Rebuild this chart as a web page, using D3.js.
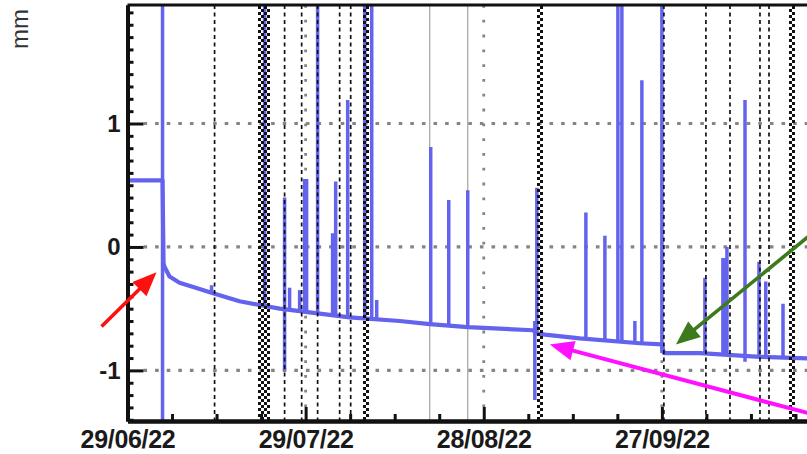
<!DOCTYPE html>
<html><head><meta charset="utf-8">
<script src="https://cdn.jsdelivr.net/npm/d3@7"></script>
<style>
html,body{margin:0;padding:0;background:#fff;}
svg{display:block;}
text{font-family:"Liberation Sans",Arial,Helvetica,sans-serif;}
</style></head><body>
<svg id="chart" width="807" height="454"></svg>
<script>
// ---------------- DATA ----------------
const xTickLabels = ["29/06/22", "29/07/22", "28/08/22", "27/09/22"];
const yTickValues = [1, 0, -1];
const yTickLabels = ["1", "0", "-1"];
const yAxisTitle = "mm";

// slowly drifting baseline of the displacement record
const baseDates = ["2022-06-29 00:00","2022-07-04 21:36","2022-07-05 01:40","2022-07-05 05:30","2022-07-06 01:50",
  "2022-07-07 18:15","2022-07-11 03:20","2022-07-13 16:00","2022-07-17 21:00","2022-07-21 06:00","2022-07-24 15:00",
  "2022-07-27 23:45","2022-08-05 10:00","2022-08-13 20:20","2022-08-18 21:40","2022-08-25 07:20","2022-09-05 06:15",
  "2022-09-06 00:30","2022-09-07 06:45","2022-09-13 04:20","2022-09-23 07:10","2022-09-27 00:00","2022-09-27 08:10",
  "2022-10-03 09:50","2022-10-13 12:30","2022-10-25 07:00"];
const baseValues = [0.54, 0.54, -0.13, -0.16, -0.24,
  -0.29, -0.34, -0.38, -0.44, -0.47, -0.50,
  -0.52, -0.57, -0.60, -0.625, -0.65, -0.675,
  -0.70, -0.71, -0.74, -0.78, -0.79, -0.86,
  -0.86, -0.89, -0.91];

// transient spikes (high / low ends)
const spikeDates = ["2022-07-04 21:36","2022-07-13 03:50","2022-07-22 02:10","2022-07-25 11:00","2022-07-26 07:15",
  "2022-07-27 23:45","2022-07-28 20:00","2022-07-29 04:00","2022-07-31 00:30","2022-08-02 13:00","2022-08-03 01:30",
  "2022-08-05 02:00","2022-08-07 22:50","2022-08-09 03:10","2022-08-09 23:20","2022-08-19 01:40","2022-08-22 02:30",
  "2022-08-25 07:20","2022-09-05 14:25","2022-09-05 22:30","2022-09-14 04:50","2022-09-17 09:40","2022-09-19 14:10",
  "2022-09-20 06:20","2022-09-22 10:50","2022-09-23 15:10","2022-09-27 00:00","2022-10-04 06:00","2022-10-07 06:45",
  "2022-10-07 14:30","2022-10-07 23:00","2022-10-11 00:00","2022-10-13 08:30","2022-10-14 12:00","2022-10-17 09:40"];
const spikeHighs = [2.5, -0.31, 2.5, 0.40, -0.33,
  -0.35, 0.55, 0.55, 2.5, 0.11, 0.53,
  1.19, 2.5, 2.5, -0.43, 0.81, 0.38,
  0.46, -0.60, 0.48, 0.28, 0.09, 2.5,
  2.5, -0.60, 1.35, 2.5, -0.25, -0.09,
  -0.09, 0.00, 1.19, -0.12, -0.28, -0.46];
const spikeLows = [-1.6, -0.38, -0.48, -1.00, -0.51,
  -0.52, -0.53, -0.53, -0.54, -0.55, -0.55,
  -0.56, -0.57, -0.57, -0.58, -0.625, -0.635,
  -0.65, -1.24, -0.70, -0.74, -0.76, -0.77,
  -0.77, -0.78, -0.78, -0.86, -0.86, -0.87,
  -0.87, -0.87, -0.93, -0.88, -0.89, -0.89];

// event markers
const dashedEventDates = ["2022-07-13 16:00","2022-07-25 11:00","2022-07-28 08:00","2022-07-31 00:30","2022-08-03 17:30",
  "2022-08-05 14:10","2022-09-27 08:10","2022-10-04 10:00","2022-10-08 11:15","2022-10-13 12:30","2022-10-15 01:00"];
const checkerEventDates = ["2022-07-21 10:00","2022-07-22 10:20","2022-08-08 02:40","2022-09-06 10:30","2022-10-18 21:40"];
const grayEventDates = ["2022-08-18 21:40","2022-08-25 07:20"];

// annotation arrows (tail -> tip), in data units
const arrowTailDates = ["2022-06-24 15:00","2022-10-21 22:50","2022-10-21 22:50"];
const arrowTailValues = [-0.645, 0.095, -1.35];
const arrowTipDates = ["2022-07-03 21:20","2022-09-29 08:40","2022-09-08 03:00"];
const arrowTipValues = [-0.205, -0.79, -0.79];

// ---------------- CHART ----------------
const parse = d3.timeParse("%Y-%m-%d %H:%M");
const svg = d3.select("#chart");
const pL = 127.5, pR = 840, pT = 5, pB = 421;
const x = d3.scaleTime().domain([new Date(2022,5,29), new Date(2022,9,27)]).range([pL, pR]);
const y = d3.scaleLinear().domain([-1.41, 1.96]).range([pB, pT]);
const BLUE = "#6363ee";

const defs = svg.append("defs");
defs.append("clipPath").attr("id","clip").append("rect")
  .attr("x", pL).attr("y", pT).attr("width", pR-pL).attr("height", pB-pT);
const pat = defs.append("pattern").attr("id","chk").attr("width",6).attr("height",6)
  .attr("patternUnits","userSpaceOnUse");
pat.append("rect").attr("x",0).attr("y",0).attr("width",3).attr("height",3).attr("fill","#111");
pat.append("rect").attr("x",3).attr("y",3).attr("width",3).attr("height",3).attr("fill","#111");

const plot = svg.append("g").attr("clip-path","url(#clip)");

// horizontal dotted grid
plot.selectAll(".hg").data(yTickValues).enter().append("line")
  .attr("x1", pL+16).attr("x2", pR).attr("y1", d=>y(d)).attr("y2", d=>y(d))
  .attr("stroke","#858585").attr("stroke-width",3.2).attr("stroke-dasharray","3.6 8");

// vertical dotted grid at major dates
const majorDates = xTickLabels.map(s => d3.timeParse("%d/%m/%y")(s));
plot.selectAll(".vg").data(majorDates.slice(1)).enter().append("line")
  .attr("x1", d=>x(d)).attr("x2", d=>x(d)).attr("y1", pT).attr("y2", pB-14)
  .attr("stroke","#858585").attr("stroke-width",2.8).attr("stroke-dasharray","2.8 12");

// gray solid event lines
plot.selectAll(".ge").data(grayEventDates.map(parse)).enter().append("line")
  .attr("x1", d=>x(d)).attr("x2", d=>x(d)).attr("y1", pT).attr("y2", pB)
  .attr("stroke","#9a9a9a").attr("stroke-width",1.1);

// baseline
const baseData = baseDates.map((d,i)=>({t:parse(d), v:baseValues[i]}));
plot.append("path").datum(baseData)
  .attr("d", d3.line().x(d=>x(d.t)).y(d=>y(d.v)))
  .attr("fill","none").attr("stroke",BLUE).attr("stroke-width",4.2).attr("stroke-linejoin","round");

// spikes
const spikeData = spikeDates.map((d,i)=>({t:parse(d), hi:spikeHighs[i], lo:spikeLows[i]}));
plot.selectAll(".sp").data(spikeData).enter().append("line")
  .attr("x1", d=>x(d.t)).attr("x2", d=>x(d.t)).attr("y1", d=>y(d.lo)).attr("y2", d=>y(d.hi))
  .attr("stroke",BLUE).attr("stroke-width",3.5).attr("stroke-linecap","butt");

// dashed black event lines
plot.selectAll(".de").data(dashedEventDates.map(parse)).enter().append("line")
  .attr("x1", d=>x(d)).attr("x2", d=>x(d)).attr("y1", pT).attr("y2", pB)
  .attr("stroke","#111").attr("stroke-width",1.7).attr("stroke-dasharray","4 3.5");

// checkered event bands
plot.selectAll(".ce").data(checkerEventDates.map(parse)).enter().append("rect")
  .attr("x", d=>Math.round((x(d)-3)/3)*3).attr("width",6)
  .attr("y", pT).attr("height", pB-pT)
  .attr("fill","url(#chk)");

// axes
const axisG = svg.append("g");
axisG.append("line").attr("x1",pL).attr("x2",817).attr("y1",pT).attr("y2",pT)
  .attr("stroke","#111").attr("stroke-width",3.2);

const yMinor = d3.range(-14, 20).map(i=>i/10).filter(v=>Math.abs(v-Math.round(v))>1e-6);
axisG.append("g").attr("transform",`translate(${pL},0)`)
  .call(d3.axisLeft(y).tickValues(yMinor).tickSizeInner(-6).tickSizeOuter(0).tickFormat(""));
const yAx = axisG.append("g").attr("transform",`translate(${pL},0)`)
  .call(d3.axisLeft(y).tickValues(yTickValues).tickSizeInner(-16).tickSizeOuter(0)
    .tickPadding(7).tickFormat((d,i)=>yTickLabels[i]));

const xMinor = d3.range(7.5, 120, 7.5).filter(d=>d%30!==0)
  .map(d=>d3.timeMinute.offset(majorDates[0], d*1440));
axisG.append("g").attr("transform",`translate(0,${pB})`)
  .call(d3.axisBottom(x).tickValues(xMinor).tickSizeInner(-7).tickSizeOuter(0).tickFormat(""));
const xAx = axisG.append("g").attr("transform",`translate(0,${pB})`)
  .call(d3.axisBottom(x).tickValues(majorDates).tickSizeInner(-14).tickSizeOuter(0)
    .tickPadding(9).tickFormat((d,i)=>xTickLabels[i]));

axisG.selectAll(".domain").attr("stroke","#111").attr("stroke-width",4);
axisG.selectAll(".tick line").attr("stroke","#111").attr("stroke-width",3);
yAx.selectAll(".tick text").attr("font-size",24).attr("font-weight","bold").attr("fill","#1a1a1a")
  .attr("font-family",'"Liberation Sans",Arial,sans-serif');
xAx.selectAll(".tick text").attr("font-size",25).attr("font-weight","bold").attr("fill","#1a1a1a")
  .attr("font-family",'"Liberation Sans",Arial,sans-serif').attr("letter-spacing","-0.3");

svg.append("text").text(yAxisTitle)
  .attr("transform","translate(28,29) rotate(-90)")
  .attr("text-anchor","middle").attr("font-size",24).attr("fill","#333");

// annotation arrows
const arrowColors = ["#ff1010","#3d7a1e","#ff10ff"];
const arrowWidths = [3.6, 3.6, 4];
arrowTailDates.forEach((td,i)=>{
  const x1 = x(parse(td)), y1 = y(arrowTailValues[i]);
  const x2 = x(parse(arrowTipDates[i])), y2 = y(arrowTipValues[i]);
  const dx = x2-x1, dy = y2-y1, L = Math.hypot(dx,dy), ux = dx/L, uy = dy/L;
  const hl = 24, hw = 10;
  const bx = x2-ux*hl, by = y2-uy*hl;
  svg.append("line").attr("x1",x1).attr("y1",y1).attr("x2",bx+ux*2).attr("y2",by+uy*2)
    .attr("stroke",arrowColors[i]).attr("stroke-width",arrowWidths[i]);
  svg.append("path")
    .attr("d",`M${x2},${y2}L${bx-uy*hw},${by+ux*hw}L${bx+uy*hw},${by-ux*hw}Z`)
    .attr("fill",arrowColors[i]);
});
</script>
</body></html>
